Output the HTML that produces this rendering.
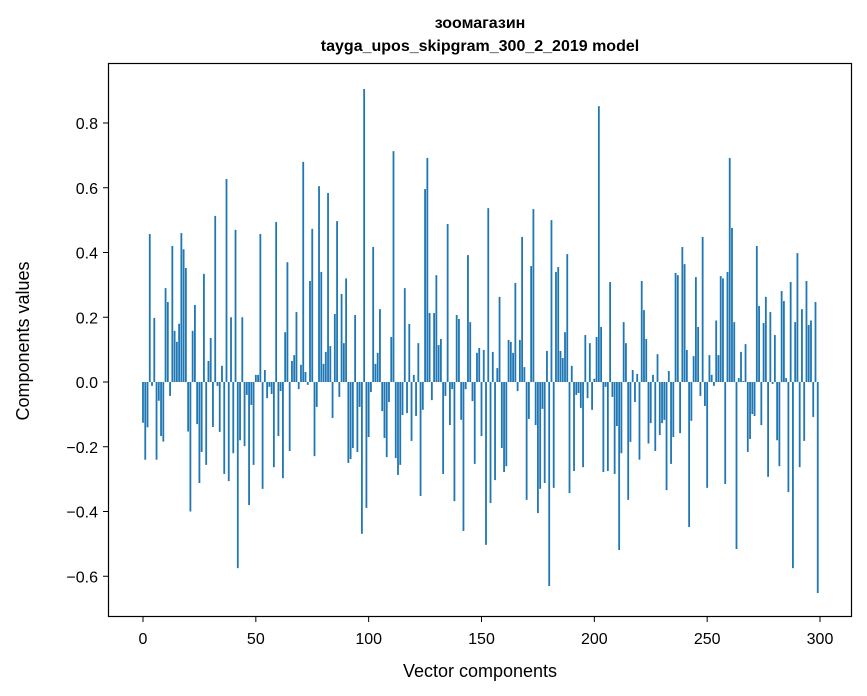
<!DOCTYPE html>
<html><head><meta charset="utf-8">
<style>
body{margin:0;background:#fff;}
svg{display:block;font-family:"Liberation Sans","DejaVu Sans",sans-serif;}
</style></head>
<body>
<svg id="chart" width="867" height="696" viewBox="0 0 867 696">
<text x="480" y="28" text-anchor="middle" font-size="16" font-weight="bold">зоомагазин</text>
<text x="480" y="51" text-anchor="middle" font-size="16" font-weight="bold">tayga_upos_skipgram_300_2_2019 model</text>
<g id="bars"></g>
<g id="axes"></g>
<rect x="108.5" y="63.5" width="743" height="553" fill="none" stroke="#000" stroke-width="1.2"/>
<text x="480" y="677" text-anchor="middle" font-size="18">Vector components</text>
<text x="0" y="0" transform="translate(29,341) rotate(-90)" text-anchor="middle" font-size="18">Components values</text>
</svg>
<script>
const values = [
-0.126,-0.24,-0.14,0.457,-0.012,0.198,-0.24,-0.058,-0.167,-0.184,
0.29,0.247,-0.043,0.42,0.158,0.124,0.18,0.46,0.41,0.352,
-0.153,-0.40,0.158,0.238,-0.13,-0.312,-0.216,0.334,-0.256,0.065,
0.136,-0.139,0.513,-0.012,-0.154,0.05,-0.284,0.627,-0.306,0.2,
-0.22,0.47,-0.575,-0.18,0.2,-0.198,-0.04,-0.38,-0.071,-0.256,
0.022,0.022,0.457,-0.33,0.037,-0.05,-0.015,-0.037,-0.263,0.494,
-0.167,-0.028,-0.297,0.154,0.37,-0.213,0.065,0.083,0.216,-0.022,
0.053,0.68,0.031,-0.009,0.312,0.473,-0.229,-0.077,0.605,0.34,
0.056,0.093,0.584,0.111,-0.111,0.21,0.497,-0.046,0.272,0.12,
0.32,-0.25,-0.238,-0.204,0.207,-0.216,-0.077,-0.469,0.905,-0.389,
-0.17,-0.031,0.417,0.056,0.09,0.225,-0.09,-0.173,-0.232,-0.062,
0.139,0.713,-0.235,-0.287,-0.256,-0.102,0.29,-0.096,0.179,-0.182,
0.022,-0.105,0.12,-0.352,-0.086,0.596,0.692,0.213,-0.056,0.213,
0.33,0.114,0.133,-0.284,-0.043,0.488,-0.133,-0.022,-0.368,0.207,
0.195,-0.117,-0.46,-0.022,0.392,0.185,-0.059,-0.253,0.09,0.105,
-0.167,0.099,-0.503,0.537,-0.374,0.093,-0.303,0.043,0.263,-0.204,
-0.278,-0.26,0.13,0.124,0.09,0.306,-0.028,0.13,0.448,0.046,
-0.364,-0.114,0.358,0.534,-0.133,-0.405,-0.33,-0.083,-0.312,0.096,
-0.63,0.5,-0.327,0.34,0.355,0.096,0.074,0.154,0.395,-0.343,
0.05,-0.275,-0.04,-0.034,-0.08,-0.263,0.145,-0.05,0.12,-0.086,
0.01,0.139,0.852,0.17,-0.278,-0.015,-0.275,0.309,-0.046,-0.284,
-0.136,-0.519,-0.22,0.185,0.12,-0.364,-0.185,0.037,-0.062,0.025,
-0.24,0.312,0.222,0.133,-0.19,-0.127,0.022,-0.213,0.086,-0.164,
-0.127,-0.117,-0.334,0.034,-0.253,-0.17,0.337,0.33,-0.158,0.417,
0.364,0.099,-0.448,-0.12,0.08,0.324,0.17,-0.043,0.448,-0.074,
-0.327,0.083,0.022,-0.012,0.19,0.083,0.327,0.32,-0.315,0.34,
0.692,0.476,0.185,-0.516,0.012,0.093,0.003,0.117,-0.216,-0.176,
-0.099,-0.105,0.42,0.235,-0.133,0.182,0.263,-0.293,0.216,-0.006,
0.145,-0.18,-0.26,0.281,0.25,0.012,-0.34,0.309,-0.575,0.185,
0.398,-0.263,0.225,-0.182,0.312,0.176,0.19,-0.108,0.247,-0.652
];
const xTicks = [0,50,100,150,200,250,300];
const yTicks = [-0.6,-0.4,-0.2,0.0,0.2,0.4,0.6,0.8];
const yTickLabels = ["\u22120.6","\u22120.4","\u22120.2","0.0","0.2","0.4","0.6","0.8"];

const NS="http://www.w3.org/2000/svg";
function xs(i){return 143 + i*(677/300);}
function ys(v){return 382 - v*323.75;}
const bars=document.getElementById('bars');
values.forEach((v,i)=>{
  const r=document.createElementNS(NS,'rect');
  const w=0.8*(677/300);
  r.setAttribute('x',xs(i)-w/2);
  const y0=ys(0), y1=ys(v);
  r.setAttribute('y',Math.min(y0,y1));
  r.setAttribute('width',w);
  r.setAttribute('height',Math.max(Math.abs(y1-y0),0.3));
  r.setAttribute('fill','#1f77b4');
  
  
  bars.appendChild(r);
});
const axes=document.getElementById('axes');
xTicks.forEach(t=>{
  const l=document.createElementNS(NS,'line');
  l.setAttribute('x1',xs(t));l.setAttribute('x2',xs(t));
  l.setAttribute('y1',617);l.setAttribute('y2',622);
  l.setAttribute('stroke','#000');
  
  
  axes.appendChild(l);
  const tx=document.createElementNS(NS,'text');
  tx.setAttribute('x',xs(t));tx.setAttribute('y',644);
  tx.setAttribute('text-anchor','middle');tx.setAttribute('font-size','16');
  tx.textContent=String(t);
  
  
  axes.appendChild(tx);
});
yTicks.forEach((t,k)=>{
  const l=document.createElementNS(NS,'line');
  l.setAttribute('x1',103);l.setAttribute('x2',108);
  l.setAttribute('y1',ys(t));l.setAttribute('y2',ys(t));
  l.setAttribute('stroke','#000');
  
  
  axes.appendChild(l);
  const tx=document.createElementNS(NS,'text');
  tx.setAttribute('x',98);tx.setAttribute('y',ys(t)+6);
  tx.setAttribute('text-anchor','end');tx.setAttribute('font-size','16');
  tx.textContent=yTickLabels[k];
  
  
  axes.appendChild(tx);
});
</script>
</body></html>
